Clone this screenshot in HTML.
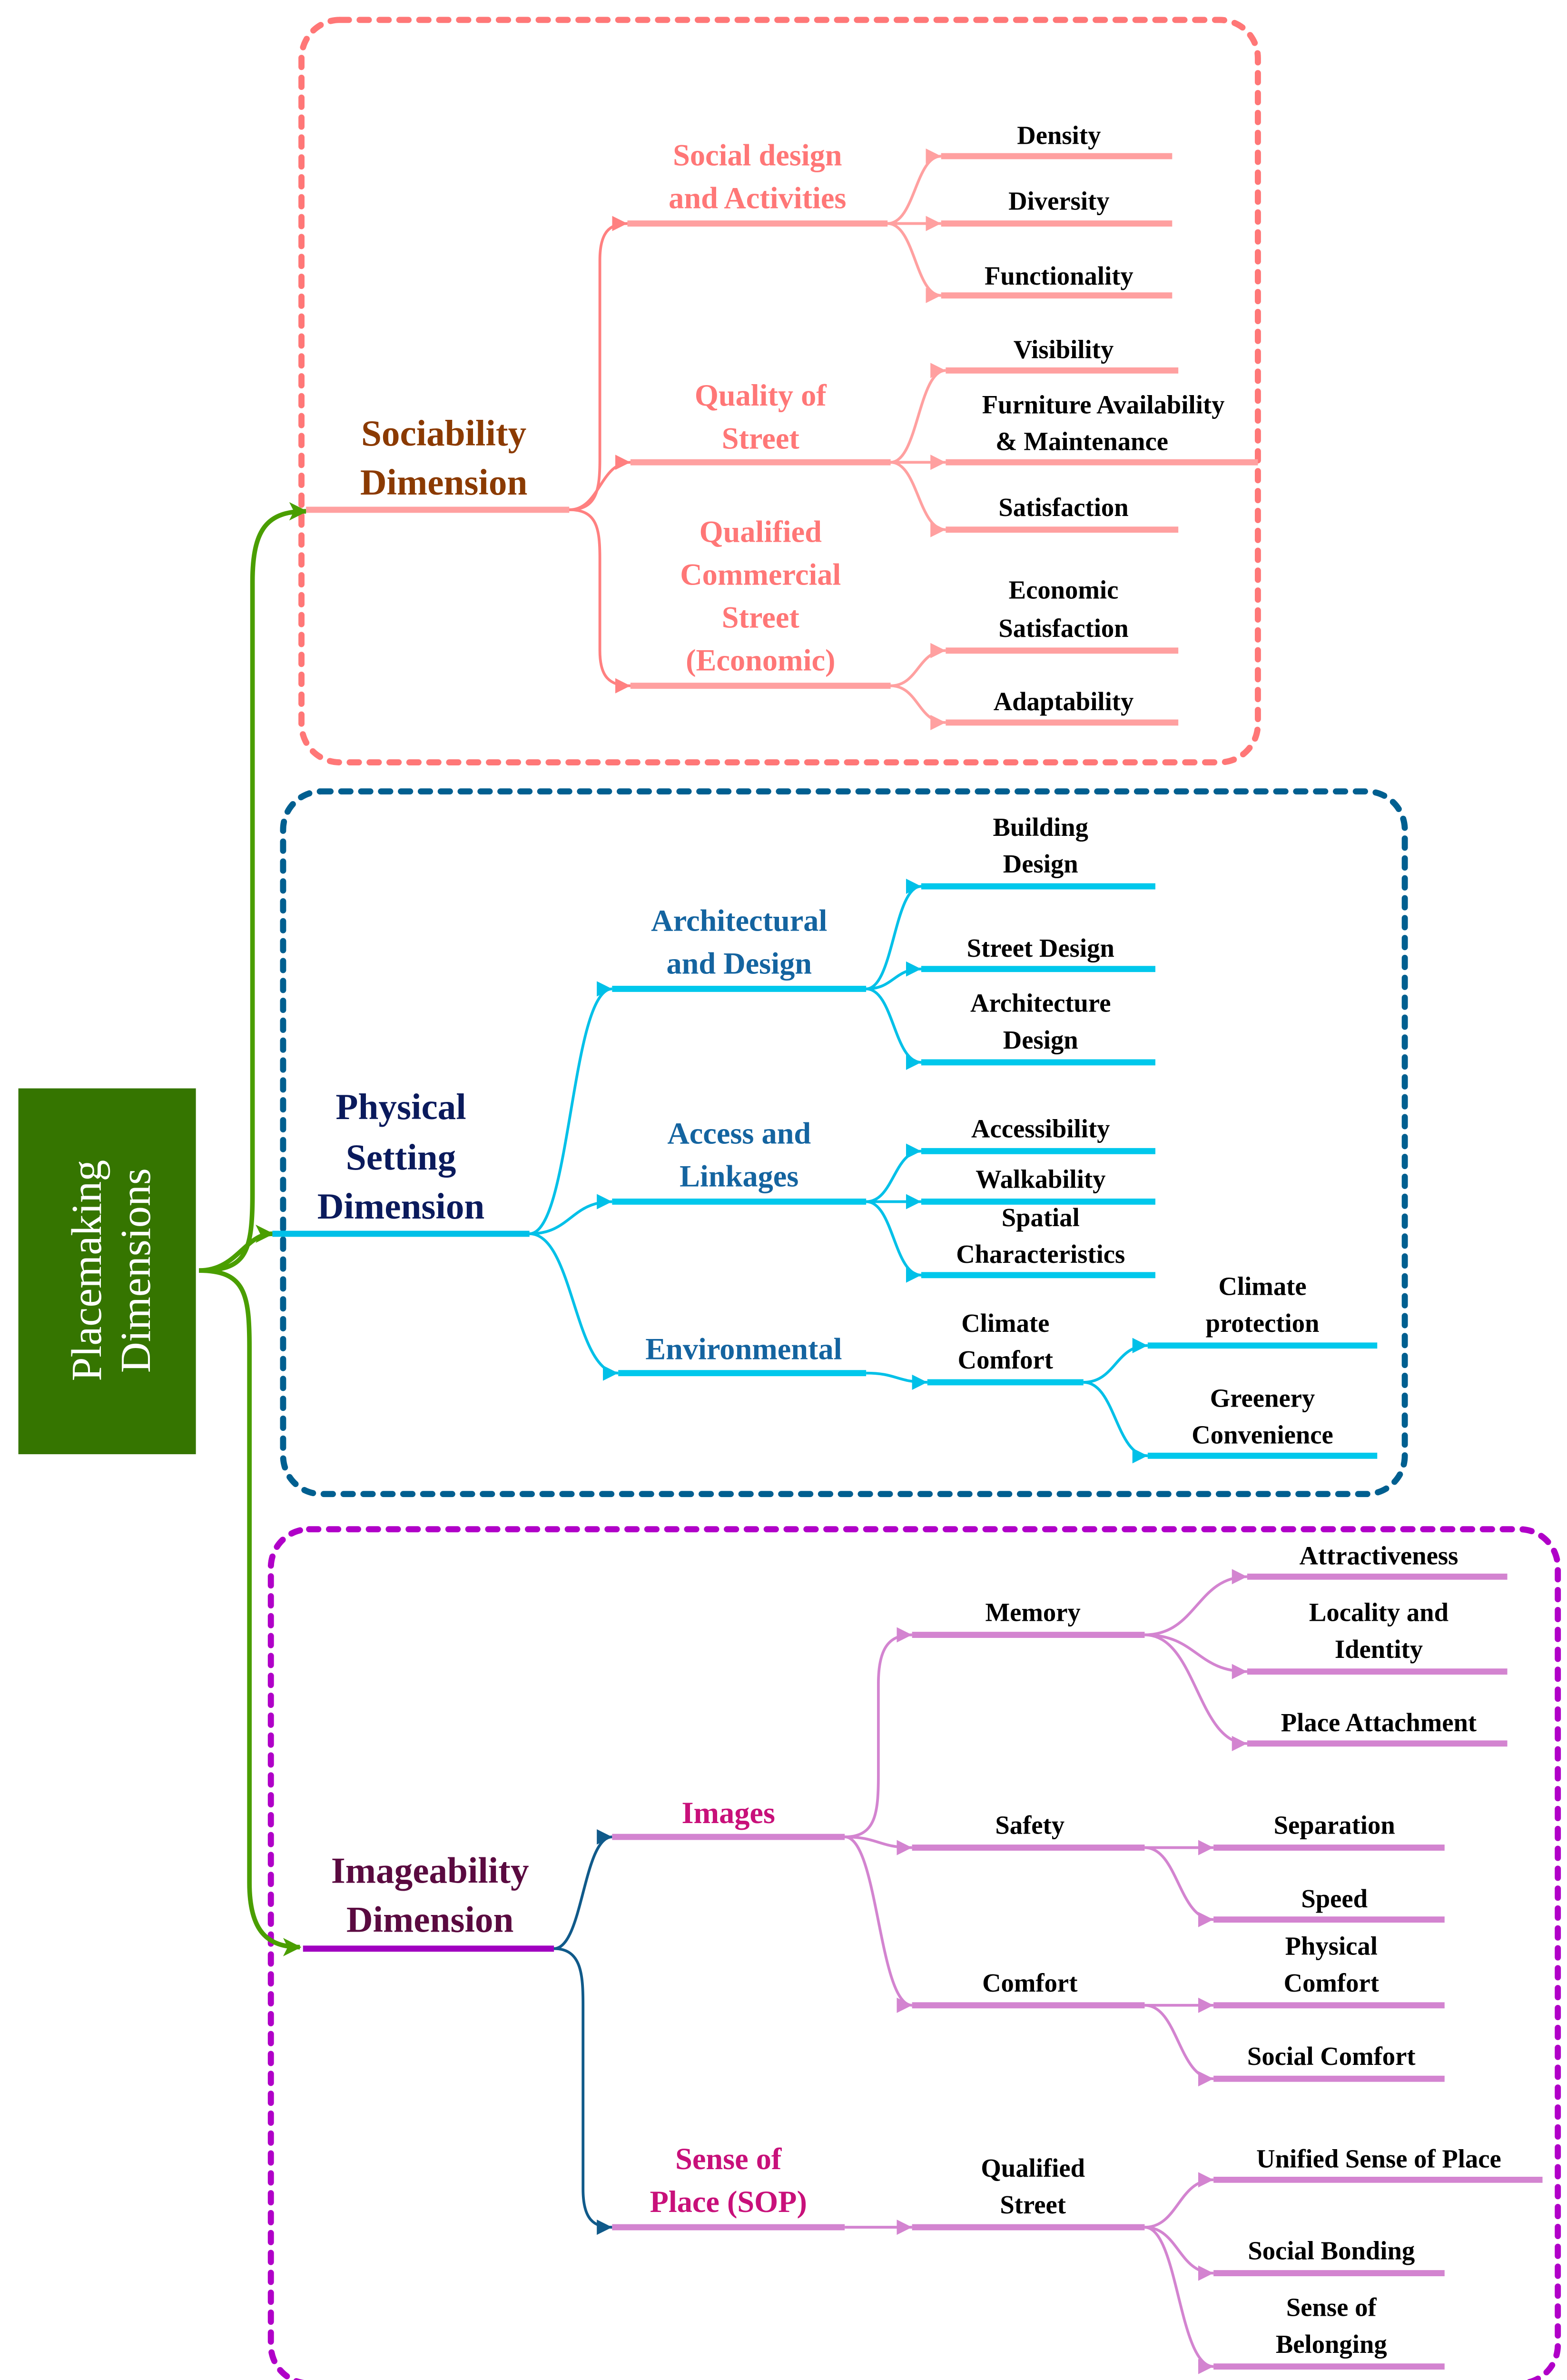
<!DOCTYPE html>
<html><head><meta charset="utf-8"><style>html,body{margin:0;padding:0;background:#fff;width:3293px;height:5038px;overflow:hidden}svg{display:block}</style></head>
<body>
<svg xmlns="http://www.w3.org/2000/svg" width="3293" height="5038" viewBox="0 0 1024 1566.6" overflow="hidden">
<defs>
<marker id="ag" markerUnits="userSpaceOnUse" markerWidth="14" markerHeight="14" refX="11" refY="6" orient="auto"><path d="M0,0 L12,6 L0,12 L3,6z" fill="#4a9e00"/></marker>
<marker id="ap" markerUnits="userSpaceOnUse" markerWidth="12" markerHeight="12" refX="10" refY="5" orient="auto"><path d="M0,0 L10,5 L0,10z" fill="#ff8080"/></marker>
<marker id="ap2" markerUnits="userSpaceOnUse" markerWidth="12" markerHeight="12" refX="10" refY="5" orient="auto"><path d="M0,0 L10,5 L0,10z" fill="#ffa0a0"/></marker>
<marker id="ab" markerUnits="userSpaceOnUse" markerWidth="12" markerHeight="12" refX="10" refY="5" orient="auto"><path d="M0,0 L10,5 L0,10z" fill="#00c0e8"/></marker>
<marker id="an" markerUnits="userSpaceOnUse" markerWidth="12" markerHeight="12" refX="10" refY="5" orient="auto"><path d="M0,0 L10,5 L0,10z" fill="#105a8a"/></marker>
<marker id="av" markerUnits="userSpaceOnUse" markerWidth="12" markerHeight="12" refX="10" refY="5" orient="auto"><path d="M0,0 L10,5 L0,10z" fill="#d384d0"/></marker>
</defs>
<g font-family="Liberation Serif, serif" font-weight="bold" text-anchor="middle">

<rect x="197" y="13" width="625" height="485" rx="25" fill="none" stroke="#ff7777" stroke-width="4" stroke-dasharray="6,7" stroke-linecap="round"/>
<rect x="185" y="517" width="733" height="459" rx="25" fill="none" stroke="#005f90" stroke-width="4" stroke-dasharray="6,7" stroke-linecap="round"/>
<rect x="177" y="999" width="841" height="558" rx="25" fill="none" stroke="#b000c8" stroke-width="4" stroke-dasharray="6,7" stroke-linecap="round"/>

<rect x="12" y="711" width="116" height="239" fill="#357500"/>
<text transform="translate(70,830) rotate(-90)" font-weight="normal" fill="#fff" font-size="28"><tspan x="0" y="-4">Placemaking</tspan><tspan x="0" y="28">Dimensions</tspan></text>

<g fill="none" stroke="#4a9e00" stroke-width="3">
<path d="M130 830 C160 830 165 820 165 780 L165 380 C165 345 175 334 200 334" marker-end="url(#ag)"/>
<path d="M130 830 C155 830 160 806 178 806" marker-end="url(#ag)"/>
<path d="M130 830 C160 830 163 845 163 880 L163 1230 C163 1262 175 1272 196 1272" marker-end="url(#ag)"/>
</g>

<line x1="200" y1="333" x2="372" y2="333" stroke="#ffa0a0" stroke-width="4"/>
<text fill="#8b3a00" font-size="24"><tspan x="290" y="291">Sociability</tspan><tspan x="290" y="323">Dimension</tspan></text>
<g fill="none" stroke="#ff8080" stroke-width="1.8">
<path d="M372 333 C390 333 392 320 392 300 L392 170 C392 152 398 146 410 146" marker-end="url(#ap)"/>
<path d="M372 333 C392 333 392 302 412 302" marker-end="url(#ap)"/>
<path d="M372 333 C390 333 392 345 392 365 L392 425 C392 442 398 448 412 448" marker-end="url(#ap)"/>
</g>
<g stroke="#ffa0a0" stroke-width="4">
<line x1="410" y1="146" x2="580" y2="146"/><line x1="412" y1="302" x2="582" y2="302"/><line x1="412" y1="448" x2="582" y2="448"/>
<line x1="615" y1="102" x2="766" y2="102"/><line x1="615" y1="146" x2="766" y2="146"/><line x1="615" y1="193" x2="766" y2="193"/>
<line x1="618" y1="242" x2="770" y2="242"/><line x1="618" y1="302" x2="822" y2="302"/><line x1="618" y1="346" x2="770" y2="346"/>
<line x1="618" y1="425" x2="770" y2="425"/><line x1="618" y1="472" x2="770" y2="472"/>
</g>
<g fill="none" stroke="#ffa0a0" stroke-width="1.8">
<path d="M580 146 C598 146 598 102 615 102" marker-end="url(#ap2)"/>
<path d="M580 146 L615 146" marker-end="url(#ap2)"/>
<path d="M580 146 C598 146 598 193 615 193" marker-end="url(#ap2)"/>
<path d="M582 302 C600 302 600 242 618 242" marker-end="url(#ap2)"/>
<path d="M582 302 L618 302" marker-end="url(#ap2)"/>
<path d="M582 302 C600 302 600 346 618 346" marker-end="url(#ap2)"/>
<path d="M582 448 C600 448 600 425 618 425" marker-end="url(#ap2)"/>
<path d="M582 448 C600 448 600 472 618 472" marker-end="url(#ap2)"/>
</g>
<g fill="#ff7777" font-size="20">
<text><tspan x="495" y="108">Social design</tspan><tspan x="495" y="136">and Activities</tspan></text>
<text><tspan x="497" y="265">Quality of</tspan><tspan x="497" y="293">Street</tspan></text>
<text><tspan x="497" y="354">Qualified</tspan><tspan x="497" y="382">Commercial</tspan><tspan x="497" y="410">Street</tspan><tspan x="497" y="438">(Economic)</tspan></text>
</g>
<g fill="#000" font-size="17">
<text x="692" y="94">Density</text><text x="692" y="137">Diversity</text><text x="692" y="186">Functionality</text>
<text x="695" y="234">Visibility</text>
<text><tspan x="721" y="270">Furniture Availability</tspan><tspan x="707" y="294">&amp; Maintenance</tspan></text>
<text x="695" y="337">Satisfaction</text>
<text><tspan x="695" y="391">Economic</tspan><tspan x="695" y="416">Satisfaction</tspan></text>
<text x="695" y="464">Adaptability</text>
</g>

<line x1="178" y1="806" x2="346" y2="806" stroke="#00c0e8" stroke-width="4"/>
<text fill="#0a1a5c" font-size="24"><tspan x="262" y="731">Physical</tspan><tspan x="262" y="764">Setting</tspan><tspan x="262" y="796">Dimension</tspan></text>
<g fill="none" stroke="#00c0e8" stroke-width="1.8">
<path d="M346 806 C373 806 373 646 400 646" marker-end="url(#ab)"/>
<path d="M346 806 C373 806 373 785 400 785" marker-end="url(#ab)"/>
<path d="M346 806 C375 806 375 897 404 897" marker-end="url(#ab)"/>
<path d="M566 646 C584 646 584 579 602 579" marker-end="url(#ab)"/>
<path d="M566 646 C584 646 584 633 602 633" marker-end="url(#ab)"/>
<path d="M566 646 C584 646 584 694 602 694" marker-end="url(#ab)"/>
<path d="M566 785 C584 785 584 752 602 752" marker-end="url(#ab)"/>
<path d="M566 785 L602 785" marker-end="url(#ab)"/>
<path d="M566 785 C584 785 584 833 602 833" marker-end="url(#ab)"/>
<path d="M566 897 C586 897 586 903 606 903" marker-end="url(#ab)"/>
<path d="M708 903 C729 903 729 879 750 879" marker-end="url(#ab)"/>
<path d="M708 903 C729 903 729 951 750 951" marker-end="url(#ab)"/>
</g>
<g stroke="#00c8ec" stroke-width="4">
<line x1="400" y1="646" x2="566" y2="646"/><line x1="400" y1="785" x2="566" y2="785"/><line x1="404" y1="897" x2="566" y2="897"/>
<line x1="602" y1="579" x2="755" y2="579"/><line x1="602" y1="633" x2="755" y2="633"/><line x1="602" y1="694" x2="755" y2="694"/>
<line x1="602" y1="752" x2="755" y2="752"/><line x1="602" y1="785" x2="755" y2="785"/><line x1="602" y1="833" x2="755" y2="833"/>
<line x1="606" y1="903" x2="708" y2="903"/><line x1="750" y1="879" x2="900" y2="879"/><line x1="750" y1="951" x2="900" y2="951"/>
</g>
<g fill="#1464a0" font-size="20">
<text><tspan x="483" y="608">Architectural</tspan><tspan x="483" y="636">and Design</tspan></text>
<text><tspan x="483" y="747">Access and</tspan><tspan x="483" y="775">Linkages</tspan></text>
<text x="486" y="888">Environmental</text>
</g>
<g fill="#000" font-size="17">
<text><tspan x="680" y="546">Building</tspan><tspan x="680" y="570">Design</tspan></text>
<text x="680" y="625">Street Design</text>
<text><tspan x="680" y="661">Architecture</tspan><tspan x="680" y="685">Design</tspan></text>
<text x="680" y="743">Accessibility</text>
<text x="680" y="776">Walkability</text>
<text><tspan x="680" y="801">Spatial</tspan><tspan x="680" y="825">Characteristics</tspan></text>
<text><tspan x="657" y="870">Climate</tspan><tspan x="657" y="894">Comfort</tspan></text>
<text><tspan x="825" y="846">Climate</tspan><tspan x="825" y="870">protection</tspan></text>
<text><tspan x="825" y="919">Greenery</tspan><tspan x="825" y="943">Convenience</tspan></text>
</g>

<line x1="198" y1="1273" x2="362" y2="1273" stroke="#a000c0" stroke-width="4"/>
<text fill="#5a0a40" font-size="24"><tspan x="281" y="1230">Imageability</tspan><tspan x="281" y="1262">Dimension</tspan></text>
<g fill="none" stroke="#105a8a" stroke-width="1.8">
<path d="M362 1273 C381 1273 381 1200 400 1200" marker-end="url(#an)"/>
<path d="M362 1273 C380 1273 381 1290 381 1310 L381 1430 C381 1450 388 1455 400 1455" marker-end="url(#an)"/>
</g>
<g fill="none" stroke="#d384d0" stroke-width="1.8">
<path d="M552 1200 C572 1200 574 1185 574 1160 L574 1100 C574 1075 582 1068 596 1068" marker-end="url(#av)"/>
<path d="M552 1200 C574 1200 574 1207 596 1207" marker-end="url(#av)"/>
<path d="M552 1200 C574 1200 574 1310 596 1310" marker-end="url(#av)"/>
<path d="M552 1455 L596 1455" marker-end="url(#av)"/>
<path d="M748 1068 C782 1068 782 1030 815 1030" marker-end="url(#av)"/>
<path d="M748 1068 C782 1068 782 1092 815 1092" marker-end="url(#av)"/>
<path d="M748 1068 C782 1068 782 1139 815 1139" marker-end="url(#av)"/>
<path d="M748 1207 L793 1207" marker-end="url(#av)"/>
<path d="M748 1207 C770 1207 770 1254 793 1254" marker-end="url(#av)"/>
<path d="M748 1310 L793 1310" marker-end="url(#av)"/>
<path d="M748 1310 C770 1310 770 1358 793 1358" marker-end="url(#av)"/>
<path d="M748 1455 C770 1455 770 1424 793 1424" marker-end="url(#av)"/>
<path d="M748 1455 C770 1455 770 1485 793 1485" marker-end="url(#av)"/>
<path d="M748 1455 C770 1455 770 1546 793 1546" marker-end="url(#av)"/>
</g>
<g stroke="#d384d0" stroke-width="4">
<line x1="400" y1="1200" x2="552" y2="1200"/><line x1="400" y1="1455" x2="552" y2="1455"/>
<line x1="596" y1="1068" x2="748" y2="1068"/><line x1="596" y1="1207" x2="748" y2="1207"/><line x1="596" y1="1310" x2="748" y2="1310"/><line x1="596" y1="1455" x2="748" y2="1455"/>
<line x1="815" y1="1030" x2="985" y2="1030"/><line x1="815" y1="1092" x2="985" y2="1092"/><line x1="815" y1="1139" x2="985" y2="1139"/>
<line x1="793" y1="1207" x2="944" y2="1207"/><line x1="793" y1="1254" x2="944" y2="1254"/>
<line x1="793" y1="1310" x2="944" y2="1310"/><line x1="793" y1="1358" x2="944" y2="1358"/>
<line x1="793" y1="1424" x2="1008" y2="1424"/><line x1="793" y1="1485" x2="944" y2="1485"/><line x1="793" y1="1546" x2="944" y2="1546"/>
</g>
<g fill="#c8107a" font-size="20">
<text x="476" y="1191">Images</text>
<text><tspan x="476" y="1417">Sense of</tspan><tspan x="476" y="1445">Place (SOP)</tspan></text>
</g>
<g fill="#000" font-size="17">
<text x="675" y="1059">Memory</text>
<text x="673" y="1198">Safety</text>
<text x="673" y="1301">Comfort</text>
<text><tspan x="675" y="1422">Qualified</tspan><tspan x="675" y="1446">Street</tspan></text>
<text x="901" y="1022">Attractiveness</text>
<text><tspan x="901" y="1059">Locality and</tspan><tspan x="901" y="1083">Identity</tspan></text>
<text x="901" y="1131">Place Attachment</text>
<text x="872" y="1198">Separation</text>
<text x="872" y="1246">Speed</text>
<text><tspan x="870" y="1277">Physical</tspan><tspan x="870" y="1301">Comfort</tspan></text>
<text x="870" y="1349">Social Comfort</text>
<text x="901" y="1416">Unified Sense of Place</text>
<text x="870" y="1476">Social Bonding</text>
<text><tspan x="870" y="1513">Sense of</tspan><tspan x="870" y="1537">Belonging</tspan></text>
</g>
</g>
</svg>
</body></html>
